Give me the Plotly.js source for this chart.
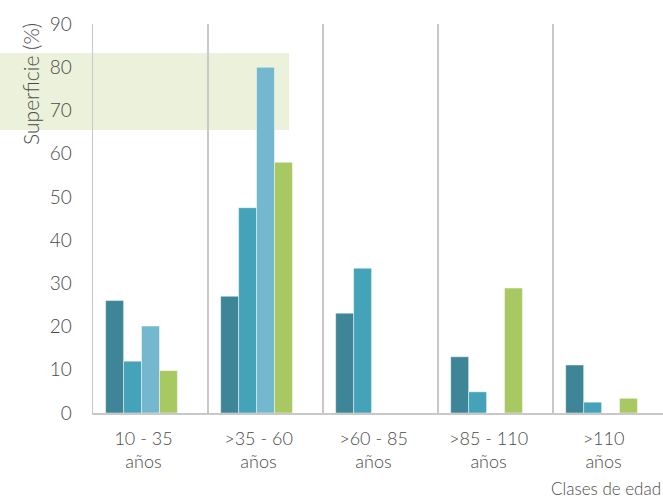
<!DOCTYPE html>
<html>
<head>
<meta charset="utf-8">
<script src="https://cdn.plot.ly/plotly-3.0.1.min.js"></script>
<style>html,body{margin:0;padding:0;background:#fff;}#chart{width:663px;height:500px;}</style>
</head>
<body>
<div id="chart"></div>
<script>
const categories = ["10 - 35<br>años", ">35 - 60<br>años", ">60 - 85<br>años", ">85 - 110<br>años", ">110<br>años"];
const serie1 = [26, 27, 23.1, 13, 11.1];
const serie2 = [12, 47.5, 33.5, 4.9, 2.5];
const serie3 = [20.1, 80, 0, 0, 0];
const serie4 = [9.8, 58, 0, 28.9, 3.4];
const serie5 = [0, 0, 0, 0, 0];
const yTicks = [0, 10, 20, 30, 40, 50, 60, 70, 80, 90];

const colors = ["#3d8597", "#45a3b9", "#74b8cf", "#a8c962", "#ffffff"];
const series = [serie1, serie2, serie3, serie4, serie5];
const font = "Lato Light, Lato, sans-serif";

const traces = series.map((s, i) => ({
  type: "bar",
  x: categories,
  y: s,
  marker: {color: colors[i], line: {color: "rgba(255,255,255,0.45)", width: 1}},
  hoverinfo: "skip",
  showlegend: false
}));

const layout = {
  width: 663, height: 500,
  margin: {l: 93, r: 0, t: 24, b: 87},
  paper_bgcolor: "#fff", plot_bgcolor: "rgba(0,0,0,0)",
  font: {family: font, color: "#4a4a4a", size: 18},
  barmode: "group",
  bargap: 0.22,
  bargroupgap: 0,
  xaxis: {
    type: "category",
    range: [-0.5, 4.456],
    tickson: "boundaries",
    ticks: "",
    ticklabelstandoff: 8,
    ticklabelshift: -7,
    showgrid: true, gridcolor: "#c8c8c8", gridwidth: 1.5,
    showline: true, linecolor: "#c8c8c8", linewidth: 2,
    tickfont: {family: font, size: 18, color: "#4a4a4a"},
    fixedrange: true
  },
  yaxis: {
    range: [0, 90],
    tickvals: yTicks,
    ticktext: yTicks.map(String),
    showgrid: false, zeroline: false,
    showline: true, linecolor: "#c8c8c8", linewidth: 1.5,
    ticks: "", ticklabelstandoff: 16,
    tickfont: {family: font, size: 19, color: "#4a4a4a"},
    fixedrange: true
  },
  shapes: [{
    type: "rect", layer: "below",
    xref: "paper", yref: "y",
    x0: -0.17, x1: 0.344, y0: 65.5, y1: 83.3,
    fillcolor: "#ebf1da", line: {width: 0}
  }],
  annotations: [
    {text: "Superficie (%)", textangle: -90, xref: "paper", yref: "y",
     x: -0.11, y: 76.2, xanchor: "center", yanchor: "middle", showarrow: false,
     font: {family: font, size: 21, color: "#4a4a4a"}},
    {text: "Clases de edad", xref: "paper", yref: "paper",
     x: 1, y: -0.193, xanchor: "right", yanchor: "middle", showarrow: false,
     font: {family: font, size: 17, color: "#4a4a4a"}}
  ]
};

Plotly.newPlot("chart", traces, layout, {displayModeBar: false, staticPlot: true});
</script>
</body>
</html>
